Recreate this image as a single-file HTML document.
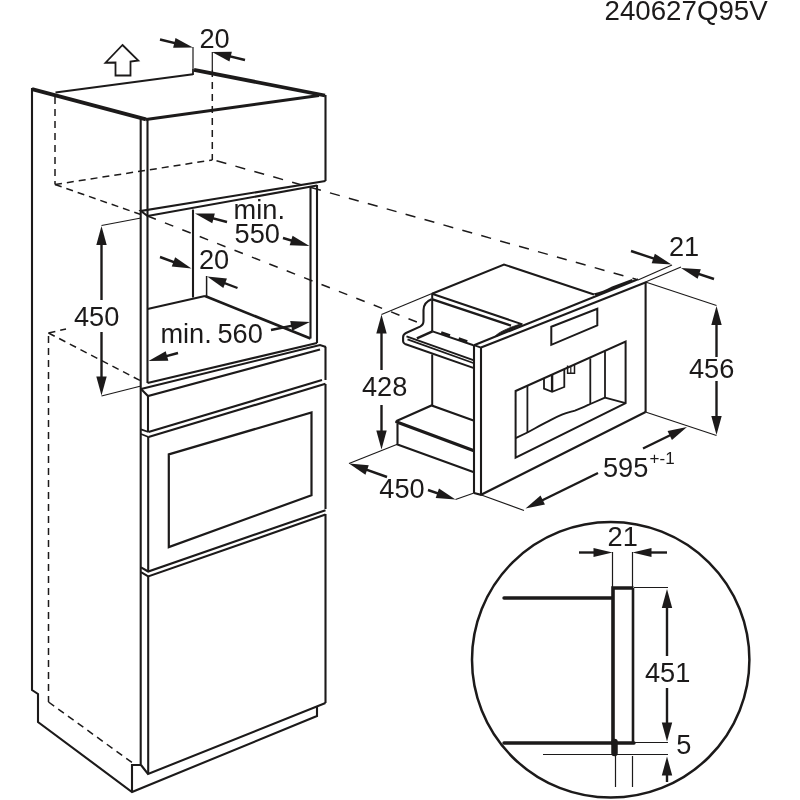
<!DOCTYPE html>
<html><head><meta charset="utf-8"><title>Installation diagram</title>
<style>
html,body{margin:0;padding:0;background:#fff;}
body{width:800px;height:800px;overflow:hidden;}
svg{display:block;will-change:transform;}
text{font-family:"Liberation Sans",sans-serif;fill:#1c1a1a;}
</style></head><body>
<svg width="800" height="800" viewBox="0 0 800 800">
<rect width="800" height="800" fill="#ffffff"/>
<path d="M32,88 L32,690 L38,694 L38,722 L132,792 L317,716 L317,707" fill="none" stroke="#1c1a1a" stroke-width="2.1" stroke-linecap="butt" stroke-linejoin="miter"/>
<path d="M132,792 L132,765 L141,765" fill="none" stroke="#1c1a1a" stroke-width="2.1" stroke-linecap="butt" stroke-linejoin="miter"/>
<path d="M32,89.2 L146,119.3" fill="none" stroke="#1c1a1a" stroke-width="3.8" stroke-linecap="butt" stroke-linejoin="miter"/>
<path d="M55.5,92.6 L193,74.3" fill="none" stroke="#1c1a1a" stroke-width="2.0" stroke-linecap="butt" stroke-linejoin="miter"/>
<path d="M193,69 L193,75" fill="none" stroke="#1c1a1a" stroke-width="1.8" stroke-linecap="butt" stroke-linejoin="miter"/>
<path d="M194,69.8 L325,95.5" fill="none" stroke="#1c1a1a" stroke-width="3.8" stroke-linecap="butt" stroke-linejoin="miter"/>
<path d="M146,119.5 L319,95.5" fill="none" stroke="#1c1a1a" stroke-width="3.1" stroke-linecap="butt" stroke-linejoin="miter"/>
<path d="M325.5,95 L325.5,181" fill="none" stroke="#1c1a1a" stroke-width="2.1" stroke-linecap="butt" stroke-linejoin="miter"/>
<path d="M140.7,119 L140.7,765" fill="none" stroke="#1c1a1a" stroke-width="2.1" stroke-linecap="butt" stroke-linejoin="miter"/>
<path d="M147.5,120 L147.5,383" fill="none" stroke="#1c1a1a" stroke-width="2.1" stroke-linecap="butt" stroke-linejoin="miter"/>
<path d="M148,396 L148,432" fill="none" stroke="#1c1a1a" stroke-width="2.1" stroke-linecap="butt" stroke-linejoin="miter"/>
<path d="M148.2,437 L148.2,571.5" fill="none" stroke="#1c1a1a" stroke-width="2.1" stroke-linecap="butt" stroke-linejoin="miter"/>
<path d="M148.2,576.4 L148.2,774" fill="none" stroke="#1c1a1a" stroke-width="2.1" stroke-linecap="butt" stroke-linejoin="miter"/>
<path d="M147.5,216 L141,211 L325.5,181" fill="none" stroke="#1c1a1a" stroke-width="2.1" stroke-linecap="butt" stroke-linejoin="miter"/>
<path d="M147.5,216 L317,185.5" fill="none" stroke="#1c1a1a" stroke-width="2.1" stroke-linecap="butt" stroke-linejoin="miter"/>
<path d="M310.5,187 L310.5,338.5" fill="none" stroke="#1c1a1a" stroke-width="2.1" stroke-linecap="butt" stroke-linejoin="miter"/>
<path d="M317,185 L317,343" fill="none" stroke="#1c1a1a" stroke-width="2.1" stroke-linecap="butt" stroke-linejoin="miter"/>
<path d="M193,209.5 L193,297.5" fill="none" stroke="#1c1a1a" stroke-width="2.1" stroke-linecap="butt" stroke-linejoin="miter"/>
<path d="M147.5,309 L205,296" fill="none" stroke="#1c1a1a" stroke-width="2.1" stroke-linecap="butt" stroke-linejoin="miter"/>
<path d="M205,296 L310.5,338.5" fill="none" stroke="#1c1a1a" stroke-width="2.6" stroke-linecap="butt" stroke-linejoin="miter"/>
<path d="M206.6,276 L206.6,296" fill="none" stroke="#1c1a1a" stroke-width="1.5" stroke-linecap="butt" stroke-linejoin="miter"/>
<path d="M147.5,383 L317,343" fill="none" stroke="#1c1a1a" stroke-width="2.1" stroke-linecap="butt" stroke-linejoin="miter"/>
<path d="M141,389 L320,345 L326,347" fill="none" stroke="#1c1a1a" stroke-width="2.1" stroke-linecap="butt" stroke-linejoin="miter"/>
<path d="M141,389 L148,396 L320,349.5" fill="none" stroke="#1c1a1a" stroke-width="2.1" stroke-linecap="butt" stroke-linejoin="miter"/>
<path d="M141,429.4 L148.5,432" fill="none" stroke="#1c1a1a" stroke-width="1.8" stroke-linecap="butt" stroke-linejoin="miter"/>
<path d="M141,434 L148.5,437" fill="none" stroke="#1c1a1a" stroke-width="1.8" stroke-linecap="butt" stroke-linejoin="miter"/>
<path d="M148.5,432 L322,380" fill="none" stroke="#1c1a1a" stroke-width="2.1" stroke-linecap="butt" stroke-linejoin="miter"/>
<path d="M148.5,437 L325.5,383.8" fill="none" stroke="#1c1a1a" stroke-width="2.1" stroke-linecap="butt" stroke-linejoin="miter"/>
<path d="M325.5,347 L325.5,380" fill="none" stroke="#1c1a1a" stroke-width="2.1" stroke-linecap="butt" stroke-linejoin="miter"/>
<path d="M325.5,384 L325.5,509" fill="none" stroke="#1c1a1a" stroke-width="2.1" stroke-linecap="butt" stroke-linejoin="miter"/>
<path d="M325.5,514 L325.5,703" fill="none" stroke="#1c1a1a" stroke-width="2.1" stroke-linecap="butt" stroke-linejoin="miter"/>
<path d="M168.8,454.4 L311.5,412.4 L311.5,495.2 L168.8,547.1 Z" fill="none" stroke="#1c1a1a" stroke-width="2.2" stroke-linecap="butt" stroke-linejoin="miter"/>
<path d="M141,567.4 L148.2,571.5 L325.5,510.2" fill="none" stroke="#1c1a1a" stroke-width="2.1" stroke-linecap="butt" stroke-linejoin="miter"/>
<path d="M141,572.2 L148.2,576.4 L325.5,514.6" fill="none" stroke="#1c1a1a" stroke-width="2.1" stroke-linecap="butt" stroke-linejoin="miter"/>
<path d="M141,765 L148,774 L325.5,703" fill="none" stroke="#1c1a1a" stroke-width="2.1" stroke-linecap="butt" stroke-linejoin="miter"/>
<path d="M55,97 L55,184.5" fill="none" stroke="#1c1a1a" stroke-width="1.5" stroke-linecap="butt" stroke-linejoin="miter" stroke-dasharray="7 5"/>
<path d="M55,184.5 L212.3,160" fill="none" stroke="#1c1a1a" stroke-width="1.5" stroke-linecap="butt" stroke-linejoin="miter" stroke-dasharray="7 5"/>
<path d="M212.3,70 L212.3,160" fill="none" stroke="#1c1a1a" stroke-width="1.5" stroke-linecap="butt" stroke-linejoin="miter" stroke-dasharray="7 5"/>
<path d="M55,184.5 L141,214.6" fill="none" stroke="#1c1a1a" stroke-width="1.5" stroke-linecap="butt" stroke-linejoin="miter" stroke-dasharray="7 5"/>
<path d="M147.5,216 L418,322.5" fill="none" stroke="#1c1a1a" stroke-width="1.5" stroke-linecap="butt" stroke-linejoin="miter" stroke-dasharray="9 9.7"/>
<path d="M216.5,160.8 L636,279.3" fill="none" stroke="#1c1a1a" stroke-width="1.5" stroke-linecap="butt" stroke-linejoin="miter" stroke-dasharray="10.2 9.45"/>
<path d="M48.5,333 L66,329" fill="none" stroke="#1c1a1a" stroke-width="1.5" stroke-linecap="butt" stroke-linejoin="miter" stroke-dasharray="7 5"/>
<path d="M48.5,333 L141,381" fill="none" stroke="#1c1a1a" stroke-width="1.5" stroke-linecap="butt" stroke-linejoin="miter" stroke-dasharray="7 5"/>
<path d="M48.5,336 L48.5,702" fill="none" stroke="#1c1a1a" stroke-width="1.5" stroke-linecap="butt" stroke-linejoin="miter" stroke-dasharray="7 5"/>
<path d="M48.5,702 L132,762.5" fill="none" stroke="#1c1a1a" stroke-width="1.5" stroke-linecap="butt" stroke-linejoin="miter" stroke-dasharray="7 5"/>
<path d="M193,47 L193,69" fill="none" stroke="#1c1a1a" stroke-width="1.2" stroke-linecap="butt" stroke-linejoin="miter"/>
<path d="M212.3,52 L212.3,70" fill="none" stroke="#1c1a1a" stroke-width="1.2" stroke-linecap="butt" stroke-linejoin="miter"/>
<path d="M160,39.5 L185.22519915449035,45.61519979502797" fill="none" stroke="#1c1a1a" stroke-width="2.4" stroke-linecap="butt" stroke-linejoin="miter"/>
<path d="M193.00,47.50 L173.16,47.84 L175.52,38.12 Z" fill="#1c1a1a"/>
<path d="M245,60 L219.77480084550965,53.88480020497203" fill="none" stroke="#1c1a1a" stroke-width="2.4" stroke-linecap="butt" stroke-linejoin="miter"/>
<path d="M212.00,52.00 L231.84,51.66 L229.48,61.38 Z" fill="#1c1a1a"/>
<path d="M101.5,225.5 L141,218" fill="none" stroke="#1c1a1a" stroke-width="1.2" stroke-linecap="butt" stroke-linejoin="miter"/>
<path d="M101.5,396 L141,386" fill="none" stroke="#1c1a1a" stroke-width="1.2" stroke-linecap="butt" stroke-linejoin="miter"/>
<path d="M101.5,240 L101.5,300" fill="none" stroke="#1c1a1a" stroke-width="2.4" stroke-linecap="butt" stroke-linejoin="miter"/>
<path d="M101.5,332 L101.5,380" fill="none" stroke="#1c1a1a" stroke-width="2.4" stroke-linecap="butt" stroke-linejoin="miter"/>
<path d="M101.50,226.00 L106.70,245.00 L96.30,245.00 Z" fill="#1c1a1a"/>
<path d="M101.50,395.50 L96.30,376.50 L106.70,376.50 Z" fill="#1c1a1a"/>
<path d="M227,222 L202.73188101541197,215.5537808947188" fill="none" stroke="#1c1a1a" stroke-width="2.4" stroke-linecap="butt" stroke-linejoin="miter"/>
<path d="M195.00,213.50 L214.84,213.60 L212.27,223.26 Z" fill="#1c1a1a"/>
<path d="M283,238 L301.8413783137063,243.6879632645151" fill="none" stroke="#1c1a1a" stroke-width="2.4" stroke-linecap="butt" stroke-linejoin="miter"/>
<path d="M309.50,246.00 L289.67,245.24 L292.56,235.66 Z" fill="#1c1a1a"/>
<path d="M160,257 L183.98514144143883,265.75648020877924" fill="none" stroke="#1c1a1a" stroke-width="2.4" stroke-linecap="butt" stroke-linejoin="miter"/>
<path d="M191.50,268.50 L171.75,266.61 L175.18,257.22 Z" fill="#1c1a1a"/>
<path d="M237.5,288 L214.6712043988459,279.2602630701852" fill="none" stroke="#1c1a1a" stroke-width="2.4" stroke-linecap="butt" stroke-linejoin="miter"/>
<path d="M207.20,276.40 L226.92,278.60 L223.34,287.93 Z" fill="#1c1a1a"/>
<path d="M271,330 L302.16317839486805,323.60755314977064" fill="none" stroke="#1c1a1a" stroke-width="2.4" stroke-linecap="butt" stroke-linejoin="miter"/>
<path d="M310.00,322.00 L292.20,330.76 L290.19,320.96 Z" fill="#1c1a1a"/>
<path d="M178,353 L156.22112262215978,358.90613623805837" fill="none" stroke="#1c1a1a" stroke-width="2.4" stroke-linecap="butt" stroke-linejoin="miter"/>
<path d="M148.50,361.00 L165.72,351.15 L168.34,360.80 Z" fill="#1c1a1a"/>
<path d="M122.5,45 L138.3,60.5 L130.5,61.5 L130.5,75.5 L115.5,75.5 L115.5,62.5 L105.5,62.7 Z" fill="none" stroke="#1c1a1a" stroke-width="1.8" stroke-linecap="butt" stroke-linejoin="miter"/>
<path d="M432,293.7 L504,264.5 L594,294.5" fill="none" stroke="#1c1a1a" stroke-width="2.1" stroke-linecap="butt" stroke-linejoin="miter"/>
<path d="M593.5,293.6 C600,292.5 606,289.5 612,286.6 L632,279 L633,281.2 L596,296 Z" fill="#1c1a1a"/>
<path d="M474,345.2 L638,279.3" fill="none" stroke="#1c1a1a" stroke-width="2.1" stroke-linecap="butt" stroke-linejoin="miter"/>
<path d="M481,347.6 L646,282.3" fill="none" stroke="#1c1a1a" stroke-width="2.1" stroke-linecap="butt" stroke-linejoin="miter"/>
<path d="M474,345.2 L481,347.6" fill="none" stroke="#1c1a1a" stroke-width="1.8" stroke-linecap="butt" stroke-linejoin="miter"/>
<path d="M474,345 L474,493" fill="none" stroke="#1c1a1a" stroke-width="2.1" stroke-linecap="butt" stroke-linejoin="miter"/>
<path d="M481,347.5 L481,494.8" fill="none" stroke="#1c1a1a" stroke-width="2.1" stroke-linecap="butt" stroke-linejoin="miter"/>
<path d="M474,493 L481,494.8 L645.6,412" fill="none" stroke="#1c1a1a" stroke-width="2.1" stroke-linecap="butt" stroke-linejoin="miter"/>
<path d="M645.6,282 L645.6,412" fill="none" stroke="#1c1a1a" stroke-width="2.1" stroke-linecap="butt" stroke-linejoin="miter"/>
<path d="M551.3,326.8 L597.3,308.8 L597.3,325.4 L551.3,344.8 Z" fill="none" stroke="#1c1a1a" stroke-width="2.0" stroke-linecap="butt" stroke-linejoin="miter"/>
<path d="M515.6,391 L625.6,341.5 L625.6,403.2 L515.6,457.7 Z" fill="none" stroke="#1c1a1a" stroke-width="2.0" stroke-linecap="butt" stroke-linejoin="miter"/>
<path d="M527.4,386 L527.4,432.5" fill="none" stroke="#1c1a1a" stroke-width="1.8" stroke-linecap="butt" stroke-linejoin="miter"/>
<path d="M590.3,358.4 L590.3,404" fill="none" stroke="#1c1a1a" stroke-width="1.8" stroke-linecap="butt" stroke-linejoin="miter"/>
<path d="M605,351.3 L605,397.6" fill="none" stroke="#1c1a1a" stroke-width="1.8" stroke-linecap="butt" stroke-linejoin="miter"/>
<path d="M515.6,438.2 L527.4,432.5 C534,429 540,425.5 545.6,422.7 C552,419.5 556,417 561.9,414.6 C567,412.5 570,412 574.9,410.6 C580,409 585,406.5 590.3,404 L605,397.6 L625.6,403.2" fill="none" stroke="#1c1a1a" stroke-width="1.9" stroke-linecap="butt" stroke-linejoin="round"/>
<path d="M544,378.6 L544,388.6 L552.1,391.9 L564.3,387 L564.3,370" fill="none" stroke="#1c1a1a" stroke-width="1.8" stroke-linecap="butt" stroke-linejoin="miter"/>
<path d="M552.1,374.5 L552.1,391.9" fill="none" stroke="#1c1a1a" stroke-width="2.4" stroke-linecap="butt" stroke-linejoin="miter"/>
<path d="M567.6,365.5 L567.6,373.2 L574.5,373.2 L574.5,364.5" fill="none" stroke="#1c1a1a" stroke-width="1.5" stroke-linecap="butt" stroke-linejoin="miter"/>
<path d="M570.8,366 L570.8,373" fill="none" stroke="#1c1a1a" stroke-width="1.2" stroke-linecap="butt" stroke-linejoin="miter"/>
<path d="M432,293.7 L522.5,324.4" fill="none" stroke="#1c1a1a" stroke-width="2.0" stroke-linecap="butt" stroke-linejoin="miter"/>
<path d="M432.5,299.4 L511,325.6" fill="none" stroke="#1c1a1a" stroke-width="2.3" stroke-linecap="butt" stroke-linejoin="miter"/>
<path d="M495.6,335.6 C500,331.5 505,330 511,327.2 L521,323.8 L521.5,325 L512,329.3 C505,332 501,333.5 496.5,336.5 Z" fill="#1c1a1a" stroke="#1c1a1a" stroke-width="0.8"/>
<path d="M431.5,299.2 C427,301 423.5,305 423.5,310 L423.5,321 C423.5,324 422,325.6 420,326.6 L406,333 C403.5,334.2 403.1,335.5 403.1,337.2 L403.1,341.3 C403.1,343 404,343.6 405,344" fill="none" stroke="#1c1a1a" stroke-width="2.1" stroke-linecap="butt" stroke-linejoin="round"/>
<path d="M432.2,293.7 L432.2,331.5" fill="none" stroke="#1c1a1a" stroke-width="2.0" stroke-linecap="butt" stroke-linejoin="miter"/>
<path d="M432.2,354.4 L432.2,405.6" fill="none" stroke="#1c1a1a" stroke-width="2.0" stroke-linecap="butt" stroke-linejoin="miter"/>
<path d="M405,344 L473.3,367.9" fill="none" stroke="#1c1a1a" stroke-width="2.0" stroke-linecap="butt" stroke-linejoin="miter"/>
<path d="M406.5,336.4 L473.3,360.2" fill="none" stroke="#1c1a1a" stroke-width="1.9" stroke-linecap="butt" stroke-linejoin="miter"/>
<path d="M407.5,339.4 L473.3,363" fill="none" stroke="#1c1a1a" stroke-width="1.7" stroke-linecap="butt" stroke-linejoin="miter"/>
<path d="M416.9,338.4 L432.5,331.4" fill="none" stroke="#1c1a1a" stroke-width="2.5" stroke-linecap="butt" stroke-linejoin="miter"/>
<path d="M432.5,331.4 L473.5,345.3" fill="none" stroke="#1c1a1a" stroke-width="2.0" stroke-linecap="butt" stroke-linejoin="miter"/>
<path d="M441.2,332.6 L450,335.6" fill="none" stroke="#1c1a1a" stroke-width="2.6" stroke-linecap="butt" stroke-linejoin="miter"/>
<path d="M458.7,338.6 L467.3,341.5" fill="none" stroke="#1c1a1a" stroke-width="2.6" stroke-linecap="butt" stroke-linejoin="miter"/>
<path d="M396.5,421 L431.5,405.5 L473.5,420.5" fill="none" stroke="#1c1a1a" stroke-width="2.1" stroke-linecap="butt" stroke-linejoin="miter"/>
<path d="M396.8,422 L473.3,450.5" fill="none" stroke="#1c1a1a" stroke-width="3.4" stroke-linecap="round" stroke-linejoin="miter"/>
<path d="M397.5,424 L397.5,444.5 L473.3,472" fill="none" stroke="#1c1a1a" stroke-width="2.1" stroke-linecap="butt" stroke-linejoin="miter"/>
<path d="M381.5,314.5 L432,293.5" fill="none" stroke="#1c1a1a" stroke-width="1.2" stroke-linecap="butt" stroke-linejoin="miter"/>
<path d="M381.5,330 L381.5,370" fill="none" stroke="#1c1a1a" stroke-width="2.4" stroke-linecap="butt" stroke-linejoin="miter"/>
<path d="M381.5,405 L381.5,435" fill="none" stroke="#1c1a1a" stroke-width="2.4" stroke-linecap="butt" stroke-linejoin="miter"/>
<path d="M381.50,314.50 L386.70,333.50 L376.30,333.50 Z" fill="#1c1a1a"/>
<path d="M381.50,449.50 L376.30,430.50 L386.70,430.50 Z" fill="#1c1a1a"/>
<path d="M349,463.5 L398,444" fill="none" stroke="#1c1a1a" stroke-width="1.2" stroke-linecap="butt" stroke-linejoin="miter"/>
<path d="M387,477 L356.5384130307572,466.17812041882166" fill="none" stroke="#1c1a1a" stroke-width="2.4" stroke-linecap="butt" stroke-linejoin="miter"/>
<path d="M349.00,463.50 L368.77,465.22 L365.42,474.64 Z" fill="#1c1a1a"/>
<path d="M428,490 L447.93847835625576,496.8878379776156" fill="none" stroke="#1c1a1a" stroke-width="2.4" stroke-linecap="butt" stroke-linejoin="miter"/>
<path d="M455.50,499.50 L435.72,497.96 L438.98,488.50 Z" fill="#1c1a1a"/>
<path d="M455.5,499.5 L474,493" fill="none" stroke="#1c1a1a" stroke-width="1.2" stroke-linecap="butt" stroke-linejoin="miter"/>
<path d="M480,494.5 L524,510.5" fill="none" stroke="#1c1a1a" stroke-width="1.2" stroke-linecap="butt" stroke-linejoin="miter"/>
<path d="M598,473 L532.6849010885514,504.98187601870933" fill="none" stroke="#1c1a1a" stroke-width="2.4" stroke-linecap="butt" stroke-linejoin="miter"/>
<path d="M525.50,508.50 L540.54,495.57 L544.94,504.55 Z" fill="#1c1a1a"/>
<path d="M643,448.5 L679.8122090611778,430.5122160269245" fill="none" stroke="#1c1a1a" stroke-width="2.4" stroke-linecap="butt" stroke-linejoin="miter"/>
<path d="M687.00,427.00 L671.94,439.92 L667.55,430.94 Z" fill="#1c1a1a"/>
<path d="M645.5,412 L716.5,435.5" fill="none" stroke="#1c1a1a" stroke-width="1.2" stroke-linecap="butt" stroke-linejoin="miter"/>
<path d="M645.5,282 L716.5,305.5" fill="none" stroke="#1c1a1a" stroke-width="1.2" stroke-linecap="butt" stroke-linejoin="miter"/>
<path d="M716.5,320 L716.5,357" fill="none" stroke="#1c1a1a" stroke-width="2.4" stroke-linecap="butt" stroke-linejoin="miter"/>
<path d="M716.5,381 L716.5,420" fill="none" stroke="#1c1a1a" stroke-width="2.4" stroke-linecap="butt" stroke-linejoin="miter"/>
<path d="M716.50,306.00 L721.70,325.00 L711.30,325.00 Z" fill="#1c1a1a"/>
<path d="M716.50,435.00 L711.30,416.00 L721.70,416.00 Z" fill="#1c1a1a"/>
<path d="M638,280 L672,265" fill="none" stroke="#1c1a1a" stroke-width="1.2" stroke-linecap="butt" stroke-linejoin="miter"/>
<path d="M645.5,282 L681,267" fill="none" stroke="#1c1a1a" stroke-width="1.2" stroke-linecap="butt" stroke-linejoin="miter"/>
<path d="M631,251 L663.9105336155959,261.9701778718653" fill="none" stroke="#1c1a1a" stroke-width="2.4" stroke-linecap="butt" stroke-linejoin="miter"/>
<path d="M671.50,264.50 L651.70,263.17 L654.87,253.69 Z" fill="#1c1a1a"/>
<path d="M714,279 L688.5894663844041,270.5298221281347" fill="none" stroke="#1c1a1a" stroke-width="2.4" stroke-linecap="butt" stroke-linejoin="miter"/>
<path d="M681.00,268.00 L700.80,269.33 L697.63,278.81 Z" fill="#1c1a1a"/>
<ellipse cx="610.7" cy="659.8" rx="138.7" ry="137.8" fill="none" stroke="#1c1a1a" stroke-width="2.5"/>
<path d="M504,598 L612,598" fill="none" stroke="#1c1a1a" stroke-width="3.4" stroke-linecap="round" stroke-linejoin="miter"/>
<path d="M504,743 L634,743" fill="none" stroke="#1c1a1a" stroke-width="3.4" stroke-linecap="round" stroke-linejoin="miter"/>
<path d="M613,745 L613,588 L633.5,588" fill="none" stroke="#1c1a1a" stroke-width="3.6" stroke-linecap="butt" stroke-linejoin="miter"/>
<path d="M633,588 L633,744" fill="none" stroke="#1c1a1a" stroke-width="2.6" stroke-linecap="butt" stroke-linejoin="miter"/>
<path d="M614.5,742 L614.5,753" fill="none" stroke="#1c1a1a" stroke-width="6.5" stroke-linecap="round" stroke-linejoin="miter"/>
<path d="M543,754.5 L668,754.5" fill="none" stroke="#1c1a1a" stroke-width="1.2" stroke-linecap="butt" stroke-linejoin="miter"/>
<path d="M634,587.5 L668,587.5" fill="none" stroke="#1c1a1a" stroke-width="1.2" stroke-linecap="butt" stroke-linejoin="miter"/>
<path d="M634,742.5 L668,742.5" fill="none" stroke="#1c1a1a" stroke-width="1.2" stroke-linecap="butt" stroke-linejoin="miter"/>
<path d="M612.5,552 L612.5,587" fill="none" stroke="#1c1a1a" stroke-width="1.2" stroke-linecap="butt" stroke-linejoin="miter"/>
<path d="M632.5,552 L632.5,587" fill="none" stroke="#1c1a1a" stroke-width="1.2" stroke-linecap="butt" stroke-linejoin="miter"/>
<path d="M615.5,756 L615.5,787" fill="none" stroke="#1c1a1a" stroke-width="1.2" stroke-linecap="butt" stroke-linejoin="miter"/>
<path d="M632.5,756 L632.5,787" fill="none" stroke="#1c1a1a" stroke-width="1.2" stroke-linecap="butt" stroke-linejoin="miter"/>
<path d="M579,552.5 L600,552.5" fill="none" stroke="#1c1a1a" stroke-width="2.4" stroke-linecap="butt" stroke-linejoin="miter"/>
<path d="M612.50,552.50 L593.50,557.10 L593.50,547.90 Z" fill="#1c1a1a"/>
<path d="M645,552.5 L667,552.5" fill="none" stroke="#1c1a1a" stroke-width="2.4" stroke-linecap="butt" stroke-linejoin="miter"/>
<path d="M632.50,552.50 L651.50,547.90 L651.50,557.10 Z" fill="#1c1a1a"/>
<path d="M667,600 L667,656" fill="none" stroke="#1c1a1a" stroke-width="2.4" stroke-linecap="butt" stroke-linejoin="miter"/>
<path d="M667,688 L667,730" fill="none" stroke="#1c1a1a" stroke-width="2.4" stroke-linecap="butt" stroke-linejoin="miter"/>
<path d="M667.00,589.00 L672.20,608.00 L661.80,608.00 Z" fill="#1c1a1a"/>
<path d="M667.00,741.50 L661.80,722.50 L672.20,722.50 Z" fill="#1c1a1a"/>
<path d="M667,770 L667,782" fill="none" stroke="#1c1a1a" stroke-width="2.4" stroke-linecap="butt" stroke-linejoin="miter"/>
<path d="M667.00,756.50 L672.20,775.50 L661.80,775.50 Z" fill="#1c1a1a"/>
<text x="604.5" y="19.6" font-size="27.7" text-anchor="start">240627Q95V</text>
<text x="199.5" y="47.7" font-size="27.2" text-anchor="start">20</text>
<text x="233.6" y="219.2" font-size="27.2" text-anchor="start">min.</text>
<text x="234.6" y="242.8" font-size="27.2" text-anchor="start">550</text>
<text x="199" y="269.1" font-size="27.2" text-anchor="start">20</text>
<text x="74" y="326.2" font-size="27.2" text-anchor="start">450</text>
<text x="160.4" y="342.5" font-size="27.2" text-anchor="start">min.</text>
<text x="217.4" y="342.5" font-size="27.2" text-anchor="start">560</text>
<text x="361.9" y="395.7" font-size="27.2" text-anchor="start">428</text>
<text x="379.3" y="497.5" font-size="27.2" text-anchor="start">450</text>
<text x="603" y="477.2" font-size="27.2" text-anchor="start">595</text>
<text x="649.6" y="463.7" font-size="17" text-anchor="start">+-1</text>
<text x="669" y="256.2" font-size="27.2" text-anchor="start">21</text>
<text x="689" y="378.1" font-size="27.2" text-anchor="start">456</text>
<text x="607.6" y="546.2" font-size="27.2" text-anchor="start">21</text>
<text x="644.9" y="682" font-size="27.2" text-anchor="start">451</text>
<text x="676.3" y="754.2" font-size="27.2" text-anchor="start">5</text>
</svg>
</body></html>
